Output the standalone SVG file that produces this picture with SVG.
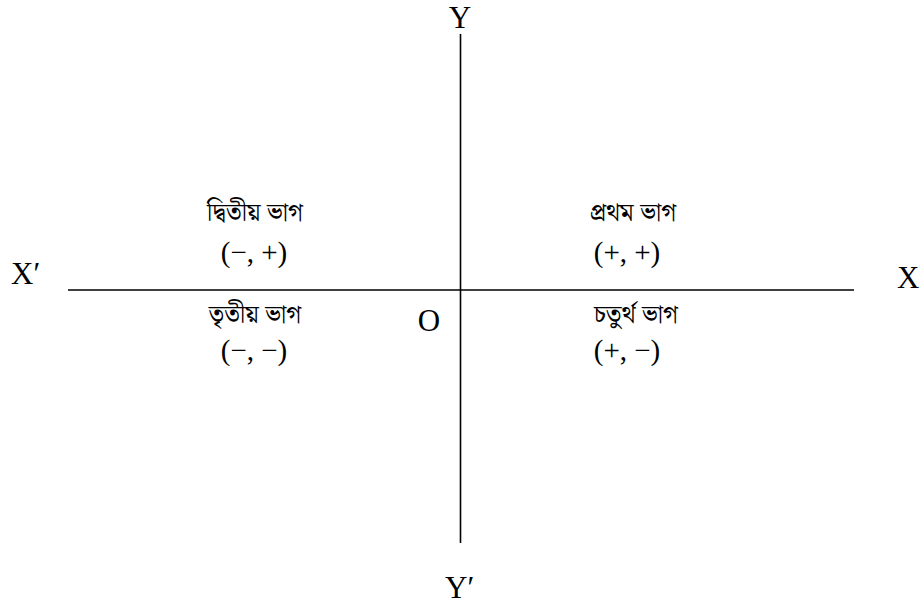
<svg xmlns="http://www.w3.org/2000/svg" width="922" height="612" viewBox="0 0 922 612">
<style>
.axis{stroke:#000;stroke-width:1.6;fill:none}
.lbl{font-family:"Liberation Serif","DejaVu Serif",serif;font-size:31px;fill:#000}
.bn{font-family:"Noto Serif Bengali","Noto Sans Bengali","Lohit Bengali","FreeSerif","Liberation Serif",serif;font-size:25px;fill:#000;text-anchor:middle}
.sg{font-family:"Liberation Serif","DejaVu Serif",serif;font-size:29px;fill:#000;text-anchor:middle}
</style>
<rect width="922" height="612" fill="#fff"/>
<g id="connectors">
<line class="axis" x1="68" y1="290" x2="854" y2="290"/>
<line class="axis" x1="460.5" y1="34" x2="460.5" y2="543"/>
</g>
<g id="axis-labels">
<text class="lbl" x="11" y="284">X′</text>
<text class="lbl" x="897" y="288">X</text>
<text class="lbl" x="460" y="28" text-anchor="middle">Y</text>
<text class="lbl" x="445" y="598">Y′</text>
<text class="lbl" x="429" y="331" text-anchor="middle">O</text>
</g>
<g id="q2">
<text class="bn" x="255" y="221">দ্বিতীয় ভাগ</text>
<text class="sg" x="254" y="262">(−, +)</text>
</g>
<g id="q1">
<text class="bn" x="633" y="221">প্রথম ভাগ</text>
<text class="sg" x="627" y="262">(+, +)</text>
</g>
<g id="q3">
<text class="bn" x="255" y="323">তৃতীয় ভাগ</text>
<text class="sg" x="254" y="360">(−, −)</text>
</g>
<g id="q4">
<text class="bn" x="636" y="323">চতুর্থ ভাগ</text>
<text class="sg" x="627" y="360">(+, −)</text>
</g>
</svg>
